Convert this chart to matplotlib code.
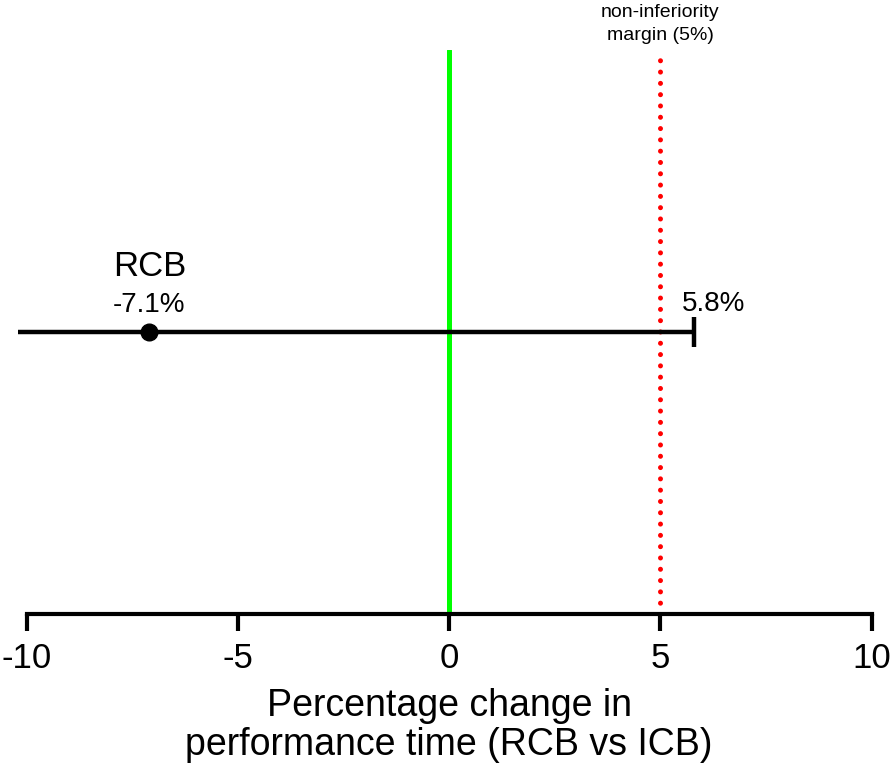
import matplotlib
matplotlib.use("Agg")
import matplotlib.pyplot as plt

plt.rcParams['font.family'] = ['Liberation Sans', 'DejaVu Sans']

# data
group = "RCB"
estimate = -7.1
ci_low = -10.2
ci_high = 5.8
margin = 5.0
xticks = [-10, -5, 0, 5, 10]

fig = plt.figure(figsize=(8.94, 7.77), dpi=100)
ax = fig.add_axes([0.030, 0.210, 0.945, 0.726])
ax.set_xlim(-10, 10)
ax.set_ylim(0, 1)
y0 = 0.5

# reference lines
ax.plot([0, 0], [0, 1], color='#00ff00', lw=3.6, solid_capstyle='round', zorder=2)
ax.plot([margin, margin], [0, 1.0], color='#ff0000', lw=3.6,
        linestyle=(0, (0.01, 2.25)), dash_capstyle='round', zorder=2)

# estimate with CI
ax.errorbar([estimate], [y0], xerr=[[estimate - ci_low], [ci_high - estimate]],
            fmt='o', color='black', ms=12, elinewidth=3.2, capsize=0,
            clip_on=False, zorder=3)
ax.plot([ci_high], [y0], marker='|', ms=21.5, mew=3.2, color='black',
        clip_on=False, zorder=3)

# labels
ax.text(estimate, 0.615, group, ha='center', va='center', fontsize=25)
ax.text(estimate, 0.548, "%.1f%%" % estimate, ha='center', va='center', fontsize=20)
ax.text(ci_high + 0.45, 0.55, "%.1f%%" % ci_high, ha='center', va='center', fontsize=20)
ax.text(margin, 1.045, "non-inferiority\nmargin (5%)", ha='center', va='center',
        fontsize=14, linespacing=1.45)

# axes styling
for s in ['top', 'left', 'right']:
    ax.spines[s].set_visible(False)
ax.spines['bottom'].set_linewidth(3)
ax.spines['bottom'].set_bounds(-10, 10)
ax.spines['bottom'].set_capstyle('projecting')
ax.set_yticks([])
ax.set_xticks(xticks)
ax.set_xticklabels([str(t) for t in xticks])
ax.tick_params(axis='x', direction='out', length=12, width=3, labelsize=25, pad=8)
ax.set_xlabel("Percentage change in\nperformance time (RCB vs ICB)", fontsize=27,
              labelpad=10, linespacing=1.1)

fig.savefig("out.png", dpi=100)
